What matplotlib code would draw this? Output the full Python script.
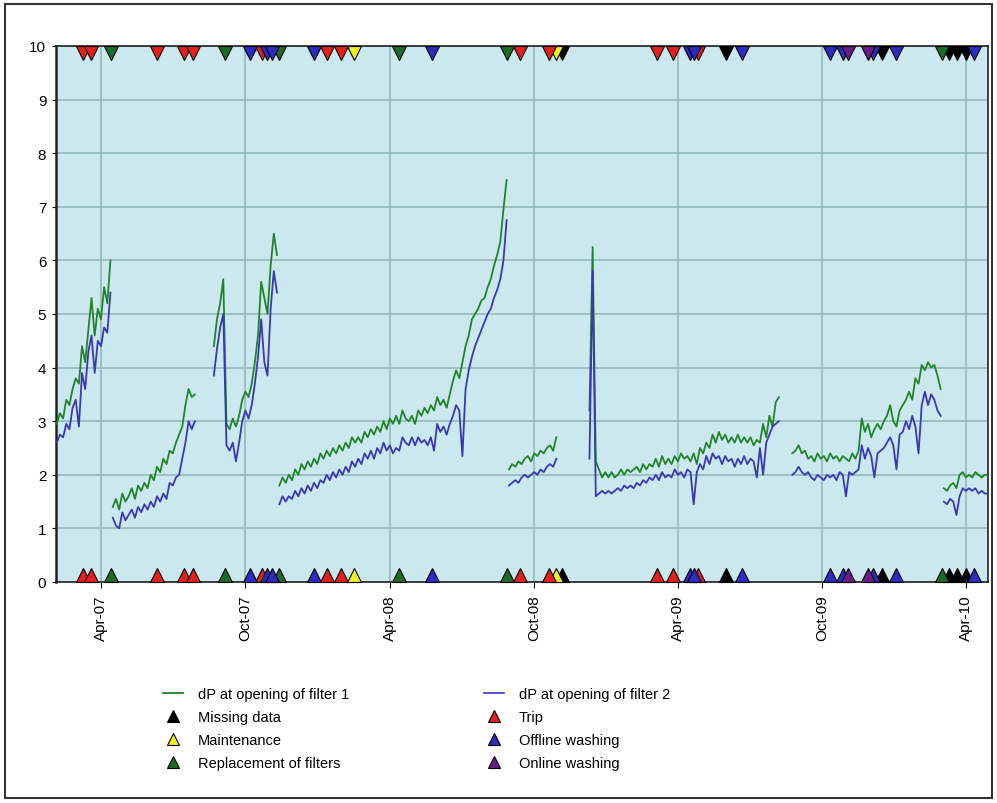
import numpy as np
import matplotlib
matplotlib.use('Agg')
import matplotlib.pyplot as plt
import matplotlib.dates as mdates
from matplotlib.lines import Line2D
from matplotlib.patches import Rectangle

plt.rcParams['font.family'] = ['Liberation Sans', 'DejaVu Sans']

# ---------------- data ----------------
STEP_DAYS = 4
seg_starts = ['2007-02-04', '2007-04-16', '2007-08-22', '2007-11-13',
              '2008-08-30', '2008-12-10', '2009-08-24', '2010-03-04']

f1_a = [2.95, 3.15, 3.05, 3.4, 3.3, 3.6, 3.8, 3.7, 4.4, 4.1, 4.7, 5.3, 4.6, 5.1, 4.9, 5.5, 5.2, 6.0]
f2_a = [2.6, 2.75, 2.7, 2.95, 2.85, 3.25, 3.4, 2.9, 3.9, 3.6, 4.3, 4.6, 3.9, 4.5, 4.4, 4.75, 4.65, 5.4]

f1_b = [1.4, 1.55, 1.35, 1.65, 1.5, 1.6, 1.75, 1.55, 1.8, 1.7, 1.85, 1.75, 2.0, 1.9, 2.15, 2.05,
        2.3, 2.2, 2.45, 2.4, 2.6, 2.75, 2.9, 3.3, 3.6, 3.45, 3.5]
f2_b = [1.2, 1.05, 1.0, 1.3, 1.15, 1.25, 1.35, 1.2, 1.4, 1.3, 1.45, 1.35, 1.5, 1.4, 1.6, 1.5,
        1.65, 1.55, 1.85, 1.8, 1.95, 2.0, 2.3, 2.6, 3.0, 2.85, 3.0]

f1_c = [4.4, 4.9, 5.2, 5.65, 2.95, 2.85, 3.05, 2.9, 3.1, 3.4, 3.55, 3.45, 3.7, 4.1, 4.6, 5.6,
        5.3, 5.0, 5.9, 6.5, 6.1]
f2_c = [3.85, 4.35, 4.75, 5.0, 2.55, 2.45, 2.6, 2.25, 2.6, 3.0, 3.2, 3.05, 3.3, 3.7, 4.2, 4.9,
        4.1, 3.85, 5.1, 5.8, 5.4]

f1_d = [1.8, 1.95, 1.85, 2.0, 1.9, 2.1, 2.0, 2.2, 2.1, 2.25, 2.15, 2.3, 2.2, 2.4, 2.3, 2.45,
        2.35, 2.5, 2.4, 2.55, 2.45, 2.6, 2.5, 2.7, 2.6, 2.7, 2.6, 2.8, 2.7, 2.85, 2.75, 2.9,
        2.8, 3.0, 2.85, 3.05, 2.95, 3.1, 2.95, 3.2, 3.05, 3.0, 3.1, 2.95, 3.2, 3.1, 3.25, 3.15,
        3.3, 3.2, 3.45, 3.3, 3.4, 3.25, 3.5, 3.75, 3.95, 3.8, 4.1, 4.4, 4.6, 4.9, 5.0, 5.1,
        5.25, 5.3, 5.5, 5.65, 5.9, 6.1, 6.35, 6.95, 7.5]
f2_d = [1.45, 1.6, 1.5, 1.6, 1.55, 1.7, 1.6, 1.75, 1.65, 1.8, 1.7, 1.85, 1.75, 1.9, 1.85, 2.0,
        1.9, 2.05, 1.95, 2.1, 2.0, 2.15, 2.05, 2.25, 2.15, 2.3, 2.2, 2.4, 2.3, 2.45, 2.3, 2.5,
        2.4, 2.6, 2.45, 2.55, 2.4, 2.5, 2.45, 2.7, 2.6, 2.55, 2.7, 2.55, 2.7, 2.6, 2.65, 2.55,
        2.7, 2.45, 2.95, 2.8, 2.9, 2.75, 2.95, 3.1, 3.3, 3.2, 2.35, 3.6, 3.95, 4.2, 4.4, 4.55,
        4.7, 4.85, 5.0, 5.1, 5.3, 5.45, 5.65, 6.0, 6.75]

f1_e = [2.1, 2.2, 2.15, 2.25, 2.2, 2.3, 2.35, 2.25, 2.4, 2.35, 2.45, 2.4, 2.5, 2.55, 2.45, 2.7]
f2_e = [1.8, 1.85, 1.9, 1.85, 1.95, 2.0, 1.95, 2.0, 2.05, 2.0, 2.1, 2.05, 2.15, 2.2, 2.15, 2.3]

f1_f = [3.2, 6.25, 2.25, 2.1, 1.95, 2.05, 1.95, 2.05, 1.95, 2.0, 2.1, 2.0, 2.1, 2.05, 2.1, 2.15,
        2.05, 2.2, 2.1, 2.2, 2.15, 2.3, 2.15, 2.35, 2.2, 2.3, 2.2, 2.35, 2.25, 2.4, 2.3, 2.35,
        2.25, 2.4, 2.2, 2.5, 2.4, 2.6, 2.5, 2.75, 2.6, 2.8, 2.65, 2.75, 2.6, 2.7, 2.6, 2.75,
        2.6, 2.7, 2.6, 2.7, 2.55, 2.65, 2.6, 2.95, 2.7, 3.1, 2.9, 3.35, 3.45]
f2_f = [2.3, 5.8, 1.6, 1.65, 1.7, 1.65, 1.7, 1.65, 1.7, 1.75, 1.7, 1.8, 1.75, 1.8, 1.75, 1.85,
        1.8, 1.9, 1.85, 1.95, 1.9, 2.0, 1.9, 2.05, 1.95, 2.0, 1.95, 2.1, 2.0, 2.05, 1.95, 2.1,
        2.05, 1.45, 2.05, 2.2, 2.1, 2.35, 2.2, 2.4, 2.3, 2.35, 2.2, 2.35, 2.25, 2.3, 2.15, 2.3,
        2.2, 2.35, 2.2, 2.3, 2.25, 1.95, 2.5, 2.0, 2.6, 2.75, 2.9, 2.95, 3.0]

f1_g = [2.4, 2.45, 2.55, 2.4, 2.45, 2.3, 2.35, 2.25, 2.4, 2.3, 2.35, 2.25, 2.4, 2.3, 2.35, 2.25,
        2.35, 2.3, 2.25, 2.4, 2.3, 2.45, 3.05, 2.8, 2.95, 2.7, 2.85, 2.95, 2.85, 3.0, 3.1, 3.3,
        3.0, 2.9, 3.2, 3.3, 3.4, 3.55, 3.4, 3.8, 3.7, 4.05, 3.95, 4.1, 4.0, 4.05, 3.85, 3.6]
f2_g = [2.0, 2.05, 2.15, 2.05, 2.0, 2.05, 1.95, 1.9, 2.0, 1.95, 1.9, 2.0, 1.95, 2.0, 1.9, 2.05,
        2.0, 1.6, 2.05, 2.0, 2.05, 2.1, 2.55, 2.3, 2.5, 2.35, 1.95, 2.4, 2.45, 2.5, 2.6, 2.7,
        2.55, 2.1, 2.75, 2.8, 3.0, 2.85, 3.1, 2.9, 2.4, 3.3, 3.55, 3.3, 3.5, 3.4, 3.2, 3.1]

f1_h = [1.75, 1.7, 1.8, 1.85, 1.75, 2.0, 2.05, 1.95, 2.0, 1.95, 2.05, 2.0, 1.95, 2.0, 2.0]
f2_h = [1.5, 1.45, 1.55, 1.5, 1.25, 1.6, 1.75, 1.7, 1.75, 1.7, 1.75, 1.65, 1.7, 1.65, 1.65]

filter1_segments = [f1_a, f1_b, f1_c, f1_d, f1_e, f1_f, f1_g, f1_h]
filter2_segments = [f2_a, f2_b, f2_c, f2_d, f2_e, f2_f, f2_g, f2_h]

# events
missing_data = ['2008-11-05', '2009-06-01', '2009-12-16', '2010-03-10', '2010-03-21', '2010-04-01']
maintenance = ['2008-02-15', '2008-10-29']
replacement = ['2007-04-14', '2007-09-05', '2007-11-12', '2008-04-13', '2008-08-27', '2010-03-02']
trip = ['2007-03-09', '2007-03-19', '2007-06-11', '2007-07-15', '2007-07-27', '2007-10-22',
        '2008-01-12', '2008-01-30', '2008-09-13', '2008-10-20', '2009-03-05', '2009-03-26',
        '2009-04-26']
offline_washing = ['2007-10-07', '2007-10-29', '2007-11-04', '2007-12-27', '2008-05-25',
                   '2009-04-17', '2009-04-21', '2009-06-21', '2009-10-11', '2009-10-27',
                   '2009-12-04', '2010-01-02', '2010-04-11']
online_washing = ['2009-11-02', '2009-11-28']

tick_dates = ['2007-04-01', '2007-10-01', '2008-04-01', '2008-10-01',
              '2009-04-01', '2009-10-01', '2010-04-01']
tick_labels = ['Apr-07', 'Oct-07', 'Apr-08', 'Oct-08', 'Apr-09', 'Oct-09', 'Apr-10']
y_ticks = list(range(0, 11))

# ---------------- styles ----------------
C_F1 = '#22832a'
C_F2 = '#3a38b4'
BG = '#cce8ef'
GRID = '#8fb5b5'

event_styles = [
    ('Missing data', missing_data, '#000000'),
    ('Maintenance', maintenance, '#f2ef1e'),
    ('Replacement of filters', replacement, '#1d6b2b'),
    ('Trip', trip, '#e3201c'),
    ('Offline washing', offline_washing, '#2c2cc0'),
    ('Online washing', online_washing, '#6a1c88'),
]

W, H = 997, 804
fig = plt.figure(figsize=(W / 100, H / 100), dpi=100)
ax_l, ax_r, ax_t, ax_b = 56, 988, 47, 583
ax = fig.add_axes([ax_l / W, 1 - ax_b / H, (ax_r - ax_l) / W, (ax_b - ax_t) / H])
ax.set_facecolor(BG)


def to_num(s):
    return mdates.date2num(np.datetime64(s))


for start, v1, v2 in zip(seg_starts, filter1_segments, filter2_segments):
    d1 = np.datetime64(start) + np.arange(len(v1)) * np.timedelta64(STEP_DAYS, 'D')
    d2 = np.datetime64(start) + np.arange(len(v2)) * np.timedelta64(STEP_DAYS, 'D')
    ax.plot(mdates.date2num(d1), v1, color=C_F1, lw=1.3, zorder=3)
    ax.plot(mdates.date2num(d2), v2, color=C_F2, lw=1.3, zorder=3)

ms = 9.5
for name, dates, col in event_styles:
    xs = [to_num(d) for d in dates]
    ax.plot(xs, [9.875] * len(xs), linestyle='none', marker='v', ms=ms, mfc=col,
            mec='black', mew=0.8, zorder=5, clip_on=False)
    ax.plot(xs, [0.125] * len(xs), linestyle='none', marker='^', ms=ms, mfc=col,
            mec='black', mew=0.8, zorder=5, clip_on=False)

ax.set_xlim(to_num('2007-02-03'), to_num('2010-04-29'))
ax.set_ylim(0, 10)
ax.set_yticks(y_ticks)
ax.set_xticks([to_num(d) for d in tick_dates])
ax.set_xticklabels(tick_labels, rotation=90, fontsize=11)
ax.tick_params(axis='y', labelsize=11, length=3, pad=4)
ax.tick_params(axis='x', length=4, pad=5)
ax.grid(True, color=GRID, lw=1.1, zorder=1)
ax.set_axisbelow(True)
for sp in ax.spines.values():
    sp.set_color('#222222')
    sp.set_linewidth(1.2)
ax.spines['left'].set_linewidth(1.8)

# legends
def mk(col):
    return Line2D([], [], linestyle='none', marker='^', ms=9, mfc=col, mec='black', mew=0.8)

col1_handles = [Line2D([], [], color=C_F1, lw=1.3), mk('#000000'), mk('#f2ef1e'), mk('#1d6b2b')]
col1_labels = ['dP at opening of filter 1', 'Missing data', 'Maintenance', 'Replacement of filters']
col2_handles = [Line2D([], [], color='#4a48cc', lw=1.3), mk('#e3201c'), mk('#2c2cc0'), mk('#6a1c88')]
col2_labels = ['dP at opening of filter 2', 'Trip', 'Offline washing', 'Online washing']

for handles, labels, x0 in [(col1_handles, col1_labels, 163), (col2_handles, col2_labels, 484)]:
    fig.legend(handles, labels, loc='upper left', bbox_to_anchor=(x0 / W, 1 - 688 / H),
               frameon=False, fontsize=10.5, handlelength=1.4, handletextpad=1.0,
               labelspacing=0.62, borderpad=0, borderaxespad=0)

fig.patches.append(Rectangle((5 / W, 5 / H), 1 - 10 / W, 1 - 10 / H, transform=fig.transFigure,
                             fill=False, edgecolor='#333333', lw=1.5))

fig.savefig('out.png', dpi=100)
